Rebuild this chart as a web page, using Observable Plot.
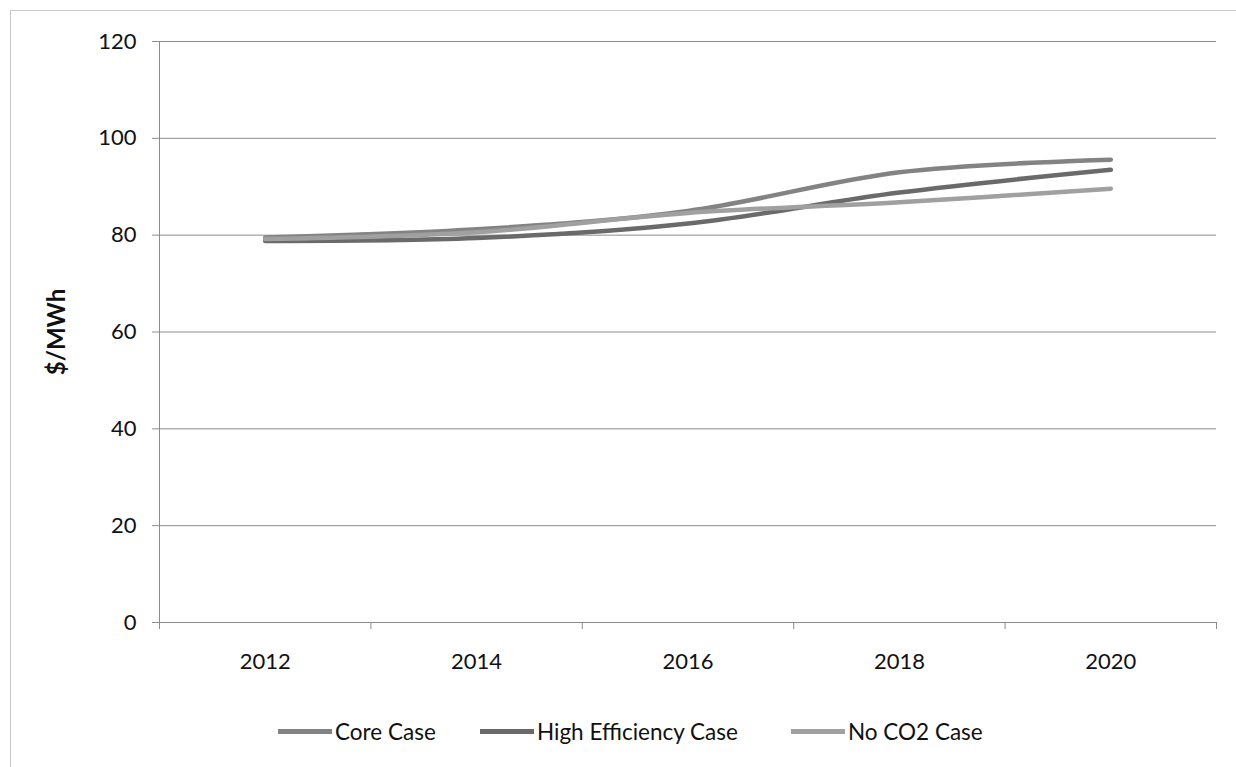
<!DOCTYPE html>
<html>
<head>
<meta charset="utf-8">
<script src="https://cdn.jsdelivr.net/npm/d3@7"></script>
<script src="https://cdn.jsdelivr.net/npm/@observablehq/plot@0.6"></script>
<style>
  html, body { margin: 0; padding: 0; background: #fff; width: 1236px; height: 767px; overflow: hidden; }
  body { font-family: Lato, "Open Sans", sans-serif; position: relative; }
  #frame { position: absolute; left: 10px; top: 10px; width: 1240px; height: 790px; border: 1px solid #c8c8c8; box-sizing: border-box; }
  #chart { position: absolute; left: 0; top: 0; }
  #legend { position: absolute; left: 0; top: 0; font-size: 22.5px; color: #111; }
  .item { position: absolute; top: 716px; display: flex; align-items: center; white-space: nowrap; height: 30px; }
  .sw { width: 54px; height: 5px; margin-right: 3px; }
</style>
</head>
<body>
<div id="frame"></div>
<div id="chart"></div>
<div id="legend"></div>
<script>
const years = [2012, 2014, 2016, 2018, 2020];
const coreCase = [79.5, 81.2, 85.0, 93.0, 95.6];
const highEfficiencyCase = [78.8, 79.4, 82.4, 88.8, 93.5];
const noCO2Case = [79.2, 80.6, 84.6, 86.8, 89.6];
const seriesNames = ["Core Case", "High Efficiency Case", "No CO2 Case"];
const seriesColors = ["#838383", "#6a6a6a", "#a0a0a0"];
const yTicks = [0, 20, 40, 60, 80, 100, 120];
const xBoundaries = [2011, 2013, 2015, 2017, 2019, 2021];

const seriesValues = [coreCase, highEfficiencyCase, noCO2Case];
const data = [];
seriesNames.forEach((name, s) => {
  years.forEach((yr, i) => data.push({series: name, year: yr, value: seriesValues[s][i]}));
});

const chart = Plot.plot({
  width: 1236,
  height: 690,
  marginLeft: 159,
  marginRight: 20,
  marginTop: 41,
  marginBottom: 68,
  style: {fontFamily: "Lato, 'Open Sans', sans-serif", fontSize: "22px", color: "#111", background: "transparent"},
  x: {domain: [2011, 2021]},
  y: {domain: [0, 120]},
  color: {domain: seriesNames, range: seriesColors},
  marks: [
    Plot.gridY(yTicks, {stroke: "#8c8c8c", strokeOpacity: 1, strokeWidth: 1}),
    Plot.ruleX([2011], {stroke: "#8c8c8c"}),
    Plot.axisY({ticks: yTicks, tickSize: 7, tickPadding: 16, fontSize: 22, tickFormat: d => String(d), label: null, stroke: "#8c8c8c"}),
    Plot.axisX({ticks: xBoundaries, tickSize: 7, tickFormat: () => "", label: null, stroke: "#8c8c8c"}),
    Plot.axisX({ticks: years, tickSize: 0, tickPadding: 31, fontSize: 22, tickFormat: d => String(d), label: null}),
    Plot.text(["$/MWh"], {frameAnchor: "left", textAnchor: "middle", dx: -102, rotate: -90, fontWeight: "bold", fontSize: 24, fill: "#111"}),
    Plot.line(data, {x: "year", y: "value", z: "series", stroke: "series", strokeWidth: 4.5, curve: "catmull-rom"})
  ]
});
document.getElementById("chart").appendChild(chart);

const legendLefts = [278, 480, 791];
const legend = document.getElementById("legend");
seriesNames.forEach((name, i) => {
  const item = document.createElement("div");
  item.className = "item";
  item.style.left = legendLefts[i] + "px";
  const sw = document.createElement("div");
  sw.className = "sw";
  sw.style.background = seriesColors[i];
  const label = document.createElement("span");
  label.textContent = name;
  item.appendChild(sw);
  item.appendChild(label);
  legend.appendChild(item);
});
</script>
</body>
</html>
